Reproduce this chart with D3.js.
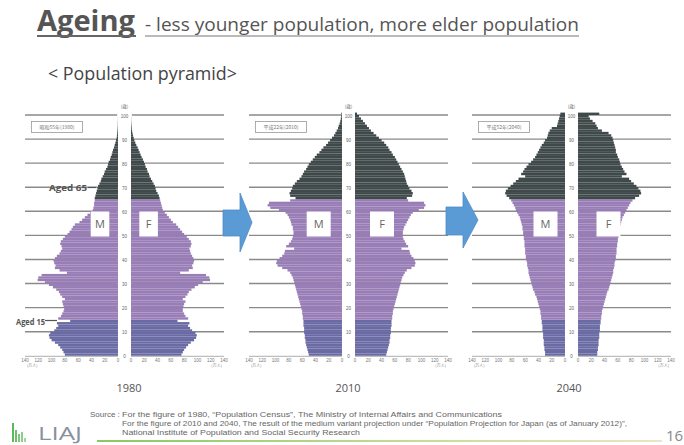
<!DOCTYPE html>
<html><head><meta charset="utf-8">
<script src="https://cdn.jsdelivr.net/npm/d3@7"></script>
<style>body{margin:0;background:#fff}</style>
</head><body><svg id="c" width="684" height="445"></svg>
<script>
// Population by single year of age (0..100+), unit: 10 thousand persons
const male1980 = [80,82,84,87,90, 95,100,103,104,102, 96,93,90,92,72, 90,86,84,82,81, 82,83,84,80,84, 87,89,93,98,104,
 110,121,120,115,77, 88,95,94,96,97, 95,92,88,86,84, 85,87,86,83,80, 76,73,70,68,65, 58,54,50,46,42,
 38,37,36,36,35, 35,34,33,32,31, 30,28,26,25,23, 21,20,18,16,15, 14,12,11,9.5,8.5, 7.5,6,5,4,3,
 2,1.6,1.2,0.9,0.6, 0.4,0.3,0.2,0.1,0.1, 0.1];
const female1980 = [76,78,80,83,86, 90,95,98,99,97, 92,89,86,88,70, 86,82,80,78,78, 79,80,82,78,82, 85,87,91,96,101,
 108,119,118,113,74, 87,93,92,94,95, 94,92,90,89,88, 90,91,90,87,84, 80,77,74,71,68, 63,60,57,54,51,
 48,47,46,45,44, 43,42,40,38,37, 36,34,32,30,28, 27,25,24,22,21, 19.5,18,16,14.5,13, 11.5,10,8,6.5,5,
 4,3,2.2,1.6,1.1, 0.8,0.5,0.3,0.2,0.1, 0.1];
const male2010 = [50,51,52,53,54, 55,55,56,56,57, 57,57,58,58,58, 59,59,60,60,61, 62,63,64,65,66, 67,68,69,70,71,
 72,73,74,76,78, 82,90,97,99,98, 94,90,87,86,72, 84,80,77,75,74, 73,73,74,74,76, 77,78,80,82,85,
 95,108,112,110,78, 70,78,79,77,75, 74,71,68,64,61, 59,57,54,52,50, 47,44,41,38,34, 31,28,24,21,18,
 15,12,10,8,6, 5,3.5,2.5,1.8,1.2, 1];
const female2010 = [47,48,49,50,51, 52,52,53,53,54, 54,54,55,55,55, 56,56,57,57,58, 59,60,61,62,63, 64,65,66,67,68,
 69,70,71,73,75, 78,85,90,91,90, 88,85,83,82,70, 80,77,75,73,72, 72,72,73,74,76, 78,80,82,84,87,
 96,104,106,104,80, 78,86,87,85,82, 80,78,77,76,75, 74,72,70,68,66, 64,62,60,57,55, 52,50,47,44,40,
 36,32,28,24,21, 18,15,12,9,6, 3];
const male2040 = [30,30,31,31,32, 32,32,33,33,33, 34,34,34,35,35, 36,36,37,37,38, 39,40,41,42,43, 45,46,48,49,50,
 51,52,53,54,55, 55,56,57,57,58, 59,59,60,60,60, 61,61,61,62,62, 63,63,64,64,65, 66,67,68,70,72,
 74,75,77,79,81, 84,88,90,89,86, 82,78,74,70,60, 66,63,61,58,55, 51,48,45,43,41, 39,37,35,32,30,
 27,26,25,23,20, 12,11,10,9,8, 7];
const female2040 = [29,29,30,30,31, 31,31,32,32,32, 33,33,33,34,34, 35,35,36,36,37, 38,39,40,41,42, 43,44,46,47,48,
 49,50,51,52,53, 53,54,55,55,56, 57,57,58,58,58, 59,59,60,60,61, 62,62,63,63,64, 65,66,67,69,71,
 73,75,77,79,82, 86,92,95,94,91, 88,84,80,77,66, 73,70,68,66,64, 63,62,60,59,57, 57,56,55,54,53,
 52,50,46,36,30, 28,26,22,18,16, 32];

const years = ["1980", "2010", "2040"];
const eraLabels = ["昭和55年(1980)", "平成22年(2010)", "平成52年(2040)"];
const ageTicks = [0,10,20,30,40,50,60,70,80,90,100];
const popTicks = [0,20,40,60,80,100,120,140];
const sourceLines = [
  "For the figure of 1980, \u201cPopulation Census\u201d, The Ministry of Internal Affairs and Communications",
  "For the figure of 2010 and 2040, The result of the medium variant projection under \u201cPopulation Projection for Japan (as of January 2012)\u201d,",
  "National Institute of Population and Social Security Research"
];

const dataSets = [
  {male: male1980, female: female1980},
  {male: male2010, female: female2010},
  {male: male2040, female: female2040}
];
// layout (not data)
const centers = [124.5, 348.5, 571.5];
const yearX = [129, 348, 569];
const mBox = [[-33.8, 18.6], [-41.8, 24], [-38, 24]];
const fBox = [[14.8, 18.6], [21.5, 24], [25, 24]];

const svg = d3.select("#c");
const halfGap = 6.5, halfW = 93;
const y = d3.scaleLinear().domain([0, 100]).range([355.8, 115]);
const colYoung = "#6a6aa5", colWork = "#987db6", colOld = "#3f494a";
const color = a => a < 15 ? colYoung : (a < 65 ? colWork : colOld);
const ages = d3.range(0, 101);

// Title
svg.append("text").attr("x", 37).attr("y", 31).attr("font-family", "Open Sans, sans-serif")
  .attr("font-weight", "bold").attr("font-size", 29).attr("fill", "#555")
  .attr("textLength", 98).attr("lengthAdjust", "spacingAndGlyphs").text("Ageing");
svg.append("text").attr("x", 145).attr("y", 31).attr("font-family", "Open Sans, sans-serif")
  .attr("font-size", 18).attr("fill", "#555")
  .attr("textLength", 434).attr("lengthAdjust", "spacingAndGlyphs")
  .text("- less younger population, more elder population");
svg.append("line").attr("x1", 37).attr("x2", 136).attr("y1", 36).attr("y2", 36).attr("stroke", "#666").attr("stroke-width", 2);
svg.append("line").attr("x1", 145).attr("x2", 579).attr("y1", 36).attr("y2", 36).attr("stroke", "#777").attr("stroke-width", 1.2);
svg.append("text").attr("x", 48).attr("y", 80).attr("font-family", "Open Sans, sans-serif")
  .attr("font-size", 18).attr("fill", "#444")
  .attr("textLength", 189).attr("lengthAdjust", "spacingAndGlyphs").text("< Population pyramid>");

dataSets.forEach((ds, i) => {
  const cx = centers[i];
  const xm = d3.scaleLinear().domain([0, 140]).range([cx - halfGap, cx - halfGap - halfW]);
  const xf = d3.scaleLinear().domain([0, 140]).range([cx + halfGap, cx + halfGap + halfW]);
  const g = svg.append("g");

  // grid lines
  ageTicks.filter(a => a > 0).forEach(a => {
    g.append("line").attr("x1", xm(140)).attr("x2", xm(0) - 1).attr("y1", y(a)).attr("y2", y(a))
      .attr("stroke", "#8a8a8a").attr("stroke-width", 1.4);
    g.append("line").attr("x1", xf(0) + 1).attr("x2", xf(140)).attr("y1", y(a)).attr("y2", y(a))
      .attr("stroke", "#8a8a8a").attr("stroke-width", 1.4);
  });

  // bars
  g.selectAll(".m").data(ages).join("rect")
    .attr("x", a => xm(ds.male[a])).attr("width", a => xm(0) - xm(ds.male[a]))
    .attr("y", a => y(a + 1)).attr("height", a => y(a) - y(a + 1))
    .attr("fill", a => color(a));
  g.selectAll(".f").data(ages).join("rect")
    .attr("x", xf(0)).attr("width", a => xf(ds.female[a]) - xf(0))
    .attr("y", a => y(a + 1)).attr("height", a => y(a) - y(a + 1))
    .attr("fill", a => color(a));

  // baseline axes
  g.append("line").attr("x1", xm(140)).attr("x2", xm(0)).attr("y1", y(0) + 0.5).attr("y2", y(0) + 0.5).attr("stroke", "#999").attr("stroke-width", 0.8);
  g.append("line").attr("x1", xf(0)).attr("x2", xf(140)).attr("y1", y(0) + 0.5).attr("y2", y(0) + 0.5).attr("stroke", "#999").attr("stroke-width", 0.8);

  // age labels in central strip
  g.selectAll(".al").data(ageTicks).join("text")
    .attr("x", cx).attr("y", a => y(a) + 2.5).attr("text-anchor", "middle")
    .attr("font-family", "Liberation Sans, Arial, sans-serif").attr("font-size", 4.5).attr("fill", "#666")
    .text(a => a);
  g.append("text").attr("x", cx).attr("y", 108).attr("text-anchor", "middle")
    .attr("font-family", "Noto Sans CJK JP").attr("font-size", 4.5).attr("fill", "#666").text("(歳)");

  // population axis labels
  popTicks.forEach(v => {
    g.append("text").attr("x", xm(v)).attr("y", 361.5).attr("text-anchor", "middle")
      .attr("font-family", "Liberation Sans, Arial, sans-serif").attr("font-size", 4.5).attr("fill", "#777").text(v);
    g.append("text").attr("x", xf(v)).attr("y", 361.5).attr("text-anchor", "middle")
      .attr("font-family", "Liberation Sans, Arial, sans-serif").attr("font-size", 4.5).attr("fill", "#777").text(v);
  });
  g.append("text").attr("x", xm(140) + 2).attr("y", 366.5).attr("font-family", "Noto Sans CJK JP")
    .attr("font-size", 4).attr("fill", "#888").text("(万人)");
  g.append("text").attr("x", xf(140) - 2).attr("y", 366.5).attr("text-anchor", "end").attr("font-family", "Noto Sans CJK JP")
    .attr("font-size", 4).attr("fill", "#888").text("(万人)");

  // era legend box
  g.append("rect").attr("x", cx - 93).attr("y", 121.5).attr("width", 51).attr("height", 11)
    .attr("fill", "#fff").attr("stroke", "#999").attr("stroke-width", 0.8);
  g.append("text").attr("x", cx - 67.5).attr("y", 129).attr("text-anchor", "middle")
    .attr("font-family", "Noto Sans CJK JP").attr("font-size", 5).attr("fill", "#777").text(eraLabels[i]);

  // M / F boxes
  [[mBox[i], "M"], [fBox[i], "F"]].forEach(([b, t]) => {
    g.append("rect").attr("x", cx + b[0]).attr("y", 211.5).attr("width", b[1]).attr("height", 25).attr("fill", "#fff");
    g.append("text").attr("x", cx + b[0] + b[1] / 2).attr("y", 228).attr("text-anchor", "middle")
      .attr("font-family", "Open Sans, sans-serif").attr("font-size", 11).attr("fill", "#666").text(t);
  });

  // year label
  svg.append("text").attr("x", yearX[i]).attr("y", 392).attr("text-anchor", "middle")
    .attr("font-family", "Open Sans, sans-serif").attr("font-size", 11).attr("fill", "#555").text(years[i]);
});

// Aged labels (panel 1)
svg.append("text").attr("x", 49).attr("y", 191).attr("font-family", "Open Sans, sans-serif").attr("font-weight", "bold")
  .attr("font-size", 9).attr("fill", "#555").attr("textLength", 38).attr("lengthAdjust", "spacingAndGlyphs").text("Aged 65");
svg.append("line").attr("x1", 88).attr("x2", 96).attr("y1", 187.5).attr("y2", 187.5).attr("stroke", "#555").attr("stroke-width", 1.2);
svg.append("text").attr("x", 16).attr("y", 325).attr("font-family", "Open Sans, sans-serif").attr("font-weight", "bold")
  .attr("font-size", 9).attr("fill", "#555").attr("textLength", 29).attr("lengthAdjust", "spacingAndGlyphs").text("Aged 15");
svg.append("line").attr("x1", 45).attr("x2", 57).attr("y1", 320.5).attr("y2", 320.5).attr("stroke", "#555").attr("stroke-width", 1.2);

// arrows
const arrows = [[223, 240, 252, 210, 236, 193, 252], [446, 463, 478, 207, 235, 192, 248]];
arrows.forEach(([x0, x1, x2, by0, by1, hy0, hy1]) => {
  const p = d3.path();
  p.moveTo(x0, by0); p.lineTo(x1, by0); p.lineTo(x1, hy0); p.lineTo(x2, (hy0 + hy1) / 2);
  p.lineTo(x1, hy1); p.lineTo(x1, by1); p.lineTo(x0, by1); p.closePath();
  svg.append("path").attr("d", p.toString()).attr("fill", "#5b9bd5").attr("stroke", "#4f8cc8").attr("stroke-width", 0.8);
});

// source
svg.append("text").attr("x", 90).attr("y", 416.5).attr("font-family", "Liberation Sans, Arial, sans-serif")
  .attr("font-size", 8).attr("fill", "#666").text("Source :");
const srcLen = [380, 505, 238];
sourceLines.forEach((t, k) => {
  svg.append("text").attr("x", 122).attr("y", 416.5 + k * 9.3).attr("font-family", "Liberation Sans, Arial, sans-serif")
    .attr("font-size", 8).attr("fill", "#666")
    .attr("textLength", srcLen[k]).attr("lengthAdjust", "spacingAndGlyphs").text(t);
});

// logo
const logoBars = [[12, 19], [15, 12], [18, 8], [21, 10], [24, 4]];
logoBars.forEach(([x, h], k) => {
  svg.append("rect").attr("x", x).attr("y", 442 - h).attr("width", 2).attr("height", h)
    .attr("fill", ["#5cb85c", "#6cc06c", "#7dc87d", "#8dd08d", "#9dd89d"][k]);
});
svg.append("text").attr("x", 38).attr("y", 440).attr("font-family", "Open Sans, sans-serif")
  .attr("font-size", 18).attr("fill", "#8a909c").attr("textLength", 44).attr("lengthAdjust", "spacingAndGlyphs").text("LIAJ");
const grad = svg.append("defs").append("linearGradient").attr("id", "lg");
grad.append("stop").attr("offset", "0%").attr("stop-color", "#8cc860");
grad.append("stop").attr("offset", "60%").attr("stop-color", "#c9dd9a");
grad.append("stop").attr("offset", "100%").attr("stop-color", "#ece4c6");
svg.append("rect").attr("x", 97).attr("y", 440).attr("width", 565).attr("height", 2).attr("fill", "url(#lg)");
svg.append("text").attr("x", 666).attr("y", 441).attr("font-family", "Open Sans, sans-serif")
  .attr("font-size", 15).attr("fill", "#888").text("16");
</script></body></html>
